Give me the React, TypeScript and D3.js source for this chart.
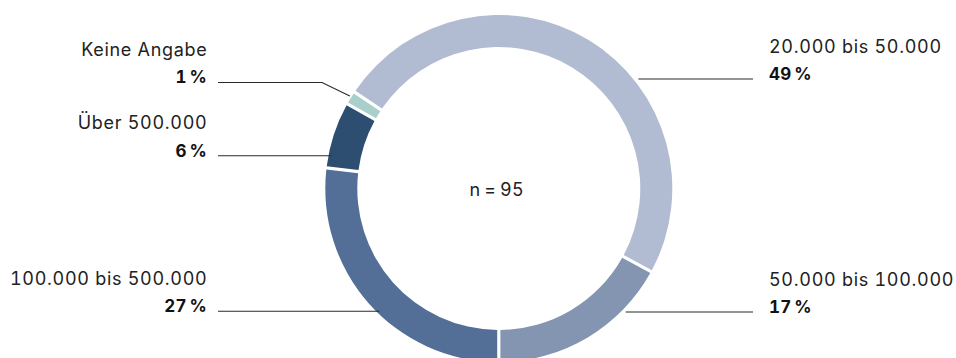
import React from "react";
import * as d3 from "d3";

const categories = ["100.000 bis 500.000", "Über 500.000", "Keine Angabe", "20.000 bis 50.000", "50.000 bis 100.000"];
const values = [27, 6, 1, 49, 17];
const percentLabels = ["27\u2009%", "6\u2009%", "1\u2009%", "49\u2009%", "17\u2009%"];
const colors = ["#536f97", "#2d4d71", "#a8cfca", "#b1bbd1", "#8395b1"];
const sides = ["left", "left", "left", "right", "right"];
const lineY = [311.3, 155.7, 82.5, 79, 312];
const centerLabel = "n\u2009=\u200995";

const W = 956;
const H = 358;
const cx = 498.8;
const cy = 188.5;
const R = 173.5;
const r = 141.5;
const FONT = "Inter, 'Noto Sans', sans-serif";

export default function App() {
  const pie = d3
    .pie<number>()
    .sort(null)
    .value((d) => d)
    .startAngle(Math.PI)
    .endAngle(3 * Math.PI)
    .padAngle(3.2 / R);
  const arcs = pie(values);
  const arc = d3.arc<d3.PieArcDatum<number>>().innerRadius(r).outerRadius(R).padRadius(R);

  const leftTextX = 207.5;
  const rightTextX = 769;
  const leftLineStart = 218;
  const rightLineEnd = 753;
  const labelStyle = { fontVariantNumeric: "tabular-nums", letterSpacing: "0.7px" } as React.CSSProperties;

  return (
    <svg width={W} height={H} style={{ position: "absolute", left: 0, top: 0, background: "#fff" }}>
      <g transform={`translate(${cx},${cy})`}>
        {arcs.map((a, i) => (
          <path key={i} d={arc(a) || ""} fill={colors[i]} />
        ))}
      </g>
      <text x={cx - 2} y={196} textAnchor="middle" fontFamily={FONT} fontSize={18} fill="#222" style={{ fontVariantNumeric: "tabular-nums", letterSpacing: "0.4px" }}>
        {centerLabel}
      </text>
      {arcs.map((a, i) => {
        const y = lineY[i];
        const side = sides[i];
        const dy = y - cy;
        const edge = Math.sqrt(Math.max(0, R * R - dy * dy));
        let path: string;
        if (i === 2) {
          const mid = (a.startAngle + a.endAngle) / 2;
          const px = cx + R * Math.sin(mid);
          const py = cy - R * Math.cos(mid);
          path = d3.line()([[leftLineStart, y], [322, y], [px - 1, py - 2]]) || "";
        } else if (side === "left") {
          path = d3.line()([[leftLineStart, y], [cx - edge + 3, y]]) || "";
        } else {
          path = d3.line()([[cx + edge + 5, y], [rightLineEnd, y]]) || "";
        }
        const tx = side === "left" ? leftTextX : rightTextX;
        const anchor = side === "left" ? "end" : "start";
        return (
          <g key={"l" + i}>
            <path d={path} fill="none" stroke="#2a2a2a" strokeWidth={1.1} />
            <text x={tx} y={y - 26.5} textAnchor={anchor} fontFamily={FONT} fontSize={18} fill="#222" style={labelStyle}>
              {categories[i]}
            </text>
            <text x={tx - (side === "left" ? 0.5 : 0)} y={y + 0.8} textAnchor={anchor} fontFamily={FONT} fontSize={17} fontWeight={700} fill="#111" style={{ fontVariantNumeric: "tabular-nums", letterSpacing: "0.2px" }}>
              {percentLabels[i]}
            </text>
          </g>
        );
      })}
    </svg>
  );
}
